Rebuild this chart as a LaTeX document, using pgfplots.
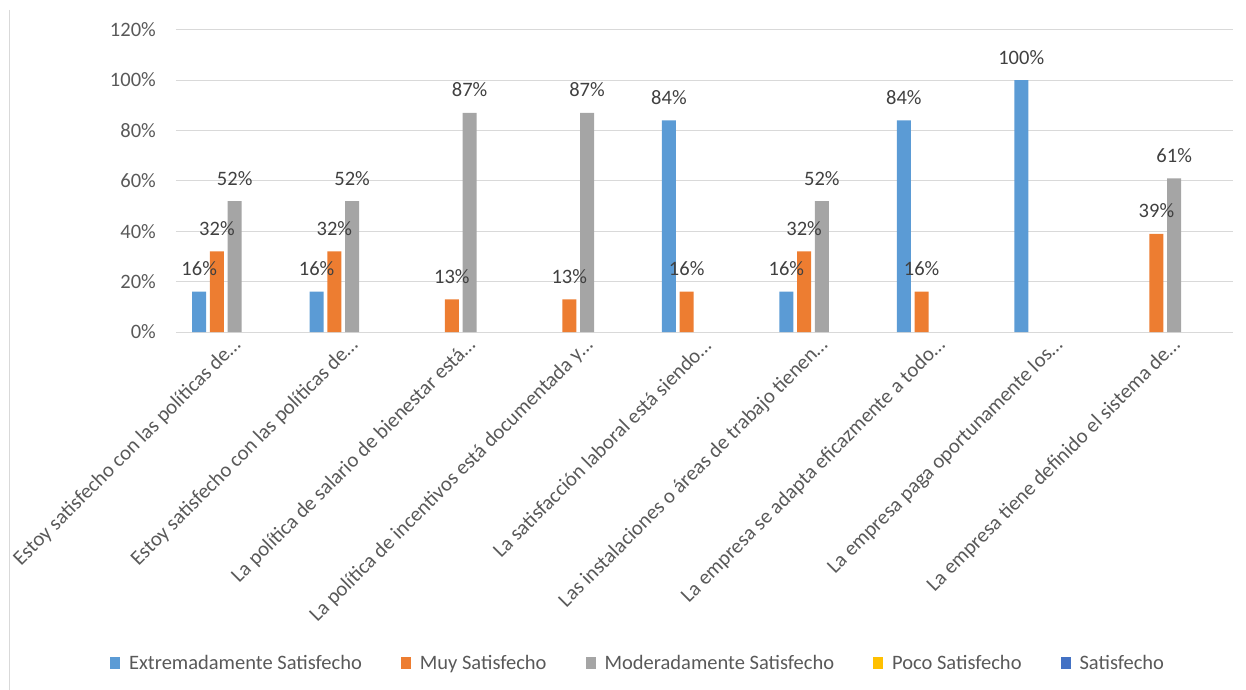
\documentclass[border=0pt]{standalone}
\usepackage{fontspec}
\setmainfont{Carlito}
\usepackage{pgfplots}
\pgfplotsset{compat=1.18}
\definecolor{cBlue}{HTML}{5B9BD5}
\definecolor{cOrange}{HTML}{ED7D31}
\definecolor{cGray}{HTML}{A5A5A5}
\definecolor{cYellow}{HTML}{FFC000}
\definecolor{cDark}{HTML}{4472C4}
\definecolor{txtGray}{HTML}{595959}
\definecolor{lblGray}{HTML}{404040}
\definecolor{gridGray}{HTML}{D9D9D9}
\newcommand\chartfont{\fontsize{20.5bp}{24bp}\selectfont}
\newcommand\catfont{\fontsize{20.8bp}{24bp}\selectfont}
\begin{document}
\begin{tikzpicture}
\path[use as bounding box] (-176bp,-358bp) rectangle (1070bp,332bp);
\begin{axis}[
  at={(0,0)}, anchor=south west,
  scale only axis, width=1057bp, height=302.3bp,
  xmin=-0.5, xmax=8.5, ymin=0, ymax=120,
  ybar, bar width=14bp,
  clip=false,
  axis x line*=bottom, axis y line*=left,
  x axis line style={draw=gridGray, line width=1bp},
  y axis line style={draw=none},
  major tick length=0pt,
  ymajorgrids, grid style={draw=gridGray, line width=1bp},
  ytick={0,20,40,60,80,100,120},
  yticklabel={\pgfmathprintnumber{\tick}\%},
  /pgf/number format/assume math mode=true,
  yticklabel style={font=\chartfont, text=txtGray, anchor=east, inner sep=0pt, xshift=-20bp},
  xtick={0,1,2,3,4,5,6,7,8},
  xticklabels={Estoy satisfecho con las políticas de…,Estoy satisfecho con las políticas de…,La política de salario de bienestar está…,La política de incentivos está documentada y…,La satisfacción laboral está siendo…,Las instalaciones o áreas de trabajo tienen…,La empresa se adapta eficazmente a todo…,La empresa paga oportunamente los…,La empresa tiene definido el sistema de…},
  xticklabel style={font=\catfont, text=txtGray, inner sep=0pt, xshift=3bp, yshift=-10bp, rotate=45, anchor=east},
  nodes near coords={\pgfmathprintnumber{\pgfplotspointmeta}\%},
  every node near coord/.append style={font=\chartfont, text=lblGray, anchor=base, inner sep=0pt, yshift=16bp},
  legend image code/.code={\path[#1, draw=none] (0bp,-6bp) rectangle (10bp,6bp);},
  legend columns=5,
  legend cell align=left,
  legend style={draw=none, fill=none, inner sep=0pt, outer sep=0pt,
    at={(-0.0624,-1.0949)}, anchor=west,
    font=\chartfont, text=txtGray,
    nodes={inner sep=0pt},
    /tikz/every odd column/.append style={column sep=9bp},
    /tikz/every even column/.append style={column sep=39bp}},
]
\addplot[fill=cBlue, draw=none, bar shift=-35.5bp] coordinates {(0,16) (1,16) (4,84) (5,16) (6,84) (7,100)};
\addlegendentry{Extremadamente Satisfecho}
\addplot[fill=cOrange, draw=none, bar shift=-17.75bp] coordinates {(0,32) (1,32) (2,13) (3,13) (4,16) (5,32) (6,16) (8,39)};
\addlegendentry{Muy Satisfecho}
\addplot[fill=cGray, draw=none, bar shift=0bp] coordinates {(0,52) (1,52) (2,87) (3,87) (5,52) (8,61)};
\addlegendentry{Moderadamente Satisfecho}
\addlegendimage{fill=cYellow, draw=none}
\addlegendentry{Poco Satisfecho}
\addlegendimage{fill=cDark, draw=none}
\addlegendentry{Satisfecho}
\end{axis}
\draw[gridGray, line width=1.5bp] (-166.5bp,322bp) -- (-166.5bp,-358bp);
\end{tikzpicture}
\end{document}
